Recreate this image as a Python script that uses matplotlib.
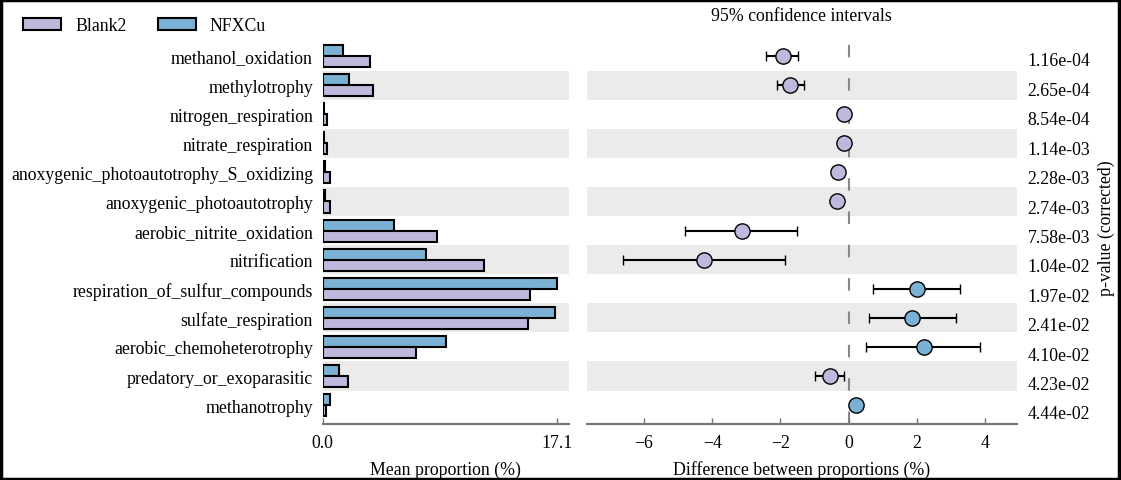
import matplotlib
matplotlib.use("Agg")
import matplotlib.pyplot as plt
from matplotlib.patches import Patch, Rectangle
import numpy as np

plt.rcParams['font.family'] = ['Liberation Serif', 'DejaVu Serif']
plt.rcParams['font.size'] = 12.8

# data, read top to bottom
categories = ['methanol_oxidation', 'methylotrophy', 'nitrogen_respiration', 'nitrate_respiration',
              'anoxygenic_photoautotrophy_S_oxidizing', 'anoxygenic_photoautotrophy',
              'aerobic_nitrite_oxidation', 'nitrification', 'respiration_of_sulfur_compounds',
              'sulfate_respiration', 'aerobic_chemoheterotrophy', 'predatory_or_exoparasitic',
              'methanotrophy']
blank2 = [3.43, 3.69, 0.30, 0.30, 0.50, 0.50, 8.33, 11.73, 15.1, 15.0, 6.8, 1.81, 0.24]
nfxcu = [1.48, 1.94, 0.12, 0.12, 0.18, 0.18, 5.23, 7.55, 17.1, 16.9, 9.0, 1.21, 0.54]
diff = [-1.92, -1.73, -0.13, -0.13, -0.32, -0.33, -3.12, -4.23, 2.0, 1.87, 2.22, -0.55, 0.22]
ci_low = [-2.41, -2.10, -0.18, -0.18, -0.42, -0.43, -4.79, -6.60, 0.73, 0.61, 0.50, -0.99, 0.03]
ci_high = [-1.47, -1.32, -0.08, -0.08, -0.22, -0.23, -1.50, -1.86, 3.28, 3.14, 3.86, -0.12, 0.35]
pvalues = ['1.16e-04', '2.65e-04', '8.54e-04', '1.14e-03', '2.28e-03', '2.74e-03', '7.58e-03',
           '1.04e-02', '1.97e-02', '2.41e-02', '4.10e-02', '4.23e-02', '4.44e-02']

c_blank = '#bdb8dc'
c_nfx = '#7bb1d4'
band = '#ebebeb'
spine_c = '#777777'

n = len(categories)
y = np.arange(n)

fig = plt.figure(figsize=(11.21, 4.81), dpi=100)
ax1 = fig.add_axes([0.2879, 0.1164, 0.2197, 0.8170])
ax2 = fig.add_axes([0.5236, 0.1164, 0.3833, 0.8170])

for ax in (ax1, ax2):
    for i in y:
        if i % 2 == 1:
            ax.axhspan(i - 0.5, i + 0.5, color=band, lw=0, zorder=0)
    ax.set_ylim(12.65, -0.86)
    for s in ['top', 'right', 'left']:
        ax.spines[s].set_visible(False)
    ax.spines['bottom'].set_color(spine_c)
    ax.spines['bottom'].set_linewidth(1.6)
    ax.tick_params(axis='x', direction='in', length=4, width=1, color=spine_c, pad=7)

# left: mean proportions
h = 0.38
ax1.barh(y - h / 2, nfxcu, height=h, color=c_nfx, edgecolor='black', lw=1.5, zorder=2)
ax1.barh(y + h / 2, blank2, height=h, color=c_blank, edgecolor='black', lw=1.5, zorder=2)
ax1.set_xlim(0, 17.1 * 1.05)
ax1.set_xticks([0, 17.1])
ax1.set_xticklabels(['0.0', '17.1'])
ax1.set_yticks(y)
ax1.set_yticklabels(categories)
ax1.tick_params(axis='y', length=0, pad=7)
ax1.set_xlabel('Mean proportion (%)', labelpad=7)

# right: differences with CI
ax2.axvline(0, color='#888888', lw=1.5, linestyle=(0, (6, 10)), zorder=1)
for i in y:
    col = c_nfx if diff[i] > 0 else c_blank
    ax2.errorbar(diff[i], i, xerr=[[diff[i] - ci_low[i]], [ci_high[i] - diff[i]]],
                 fmt='o', color='black', ecolor='black', elinewidth=1.5, capsize=3.5, capthick=1.5,
                 markersize=11, markerfacecolor=col, markeredgecolor='black', markeredgewidth=1, zorder=3)
ax2.set_xlim(-7.67, 4.93)
ax2.set_xticks([-6, -4, -2, 0, 2, 4])
ax2.set_yticks([])
ax2.set_xlabel('Difference between proportions (%)', labelpad=7)
ax2.set_title('95% confidence intervals', fontsize=12.8, pad=8)

ax3 = ax2.twinx()
ax3.set_ylim(12.41, -0.95)
ax3.set_yticks(y)
ax3.set_yticklabels(pvalues)
ax3.tick_params(axis='y', length=0, pad=8)
for s in ax3.spines.values():
    s.set_visible(False)
ax3.set_ylabel('p-value (corrected)', labelpad=5)

handles = [Patch(facecolor=c_blank, edgecolor='black', lw=1.5, label='Blank2'),
           Patch(facecolor=c_nfx, edgecolor='black', lw=1.5, label='NFXCu')]
fig.legend(handles=handles, loc='center left', bbox_to_anchor=(0.013, 0.945), ncol=2, frameon=False,
           handlelength=2.1, handleheight=0.65, handletextpad=0.8, columnspacing=1.8, borderpad=0)

fig.add_artist(Rectangle((0.001, 0.002), 0.997, 0.995, transform=fig.transFigure, fill=False,
                         edgecolor='black', lw=2.5))

plt.savefig('out.png', dpi=100)
